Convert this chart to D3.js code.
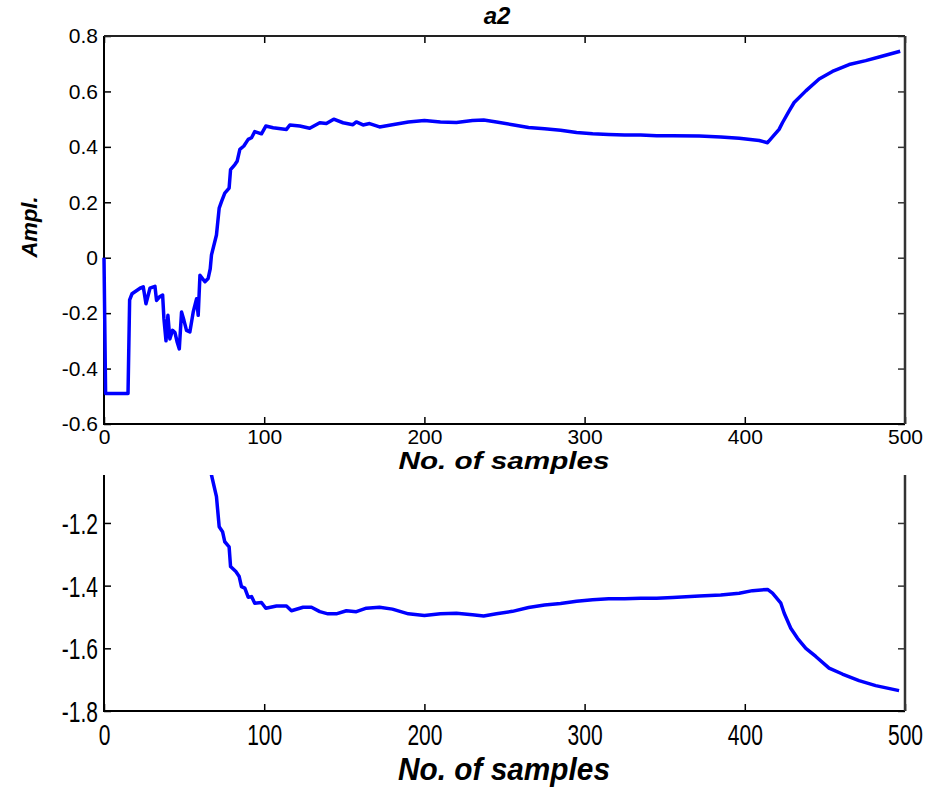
<!DOCTYPE html>
<html>
<head>
<meta charset="utf-8">
<script src="https://cdn.jsdelivr.net/npm/d3@7"></script>
<style>
  body { margin: 0; background: #fff; }
  text { font-family: "Liberation Sans", Arial, sans-serif; }
</style>
</head>
<body>
<div id="chart"></div>
<script>
const width = 935, height = 791;

// tick values
const sampleTicks = [0, 100, 200, 300, 400, 500];
const topTicks = [-0.6, -0.4, -0.2, 0, 0.2, 0.4, 0.6, 0.8];
const bottomTicks = [-1.8, -1.6, -1.4, -1.2];

// upper panel (a2)
const a2Samples = [0, 1, 15, 16, 17.5, 22.5, 24.5, 26.2, 28.7, 31.8, 32.8, 34.9, 36.6, 37.4, 38.7, 39.9,
  41.1, 42.8, 44.3, 45.7, 47, 48.4, 49.9, 51.5, 53.6, 55.7, 57.8, 58.8, 59.9, 63, 65, 66.3, 67.1,
  70.2, 71.9, 73.4, 75.4, 78.1, 79, 81.7, 83.1, 84.8, 87.3, 90, 92.1, 94.1, 98.3, 101, 105.6, 113.9,
  116, 122.2, 128.4, 134.7, 138.8, 143.4, 149.2, 155.4, 157.5, 161.7, 165.8, 172, 180, 190, 200, 210,
  220, 230, 237, 245, 255, 265, 275, 285, 295, 305, 315, 325, 335, 345, 355, 371.6, 385, 396.5, 409,
  414.2, 421.4, 423.5, 427.7, 430.8, 438.1, 446.4, 454.7, 465.1, 475.5, 485, 497];
const a2Values = [0, -0.49, -0.49, -0.152, -0.13, -0.11, -0.105, -0.166, -0.11, -0.103, -0.154, -0.14, -0.135, -0.22, -0.30, -0.208,
  -0.293, -0.262, -0.27, -0.305, -0.329, -0.196, -0.226, -0.262, -0.268, -0.196, -0.148, -0.208, -0.063, -0.087, -0.075, -0.04, 0.01,
  0.082, 0.179, 0.203, 0.233, 0.251, 0.318, 0.336, 0.348, 0.391, 0.403, 0.427, 0.433, 0.455, 0.447, 0.475, 0.469, 0.463,
  0.479, 0.475, 0.467, 0.487, 0.484, 0.5, 0.487, 0.48, 0.49, 0.479, 0.484, 0.472, 0.48, 0.49, 0.495, 0.49,
  0.488, 0.495, 0.497, 0.49, 0.48, 0.47, 0.465, 0.46, 0.452, 0.447, 0.445, 0.443, 0.443, 0.44, 0.44, 0.439, 0.436, 0.431, 0.423,
  0.415, 0.463, 0.487, 0.53, 0.56, 0.602, 0.645, 0.672, 0.697, 0.711, 0.726, 0.745];

// lower panel
const b2Samples = [64, 67.1, 70.2, 71.9, 74, 75.4, 78.1, 79, 82.3, 84.4, 85.8, 87.9, 90, 92.1, 94.1, 98.3,
  101, 107.7, 113.9, 117, 124.3, 129.5, 134.7, 139.8, 145, 151.3, 157.5, 163.8, 172, 180, 190, 200,
  210, 220, 230, 237, 245, 255, 265, 275, 285, 295, 305, 315, 325, 335, 345, 355, 371.6, 385, 396.5,
  404.8, 414.2, 417.3, 422.5, 424.6, 428.7, 432.9, 438.1, 444.3, 452.6, 460.9, 471.3, 481.7, 496.3];
const b2Values = [-1.0, -1.047, -1.116, -1.212, -1.228, -1.26, -1.276, -1.339, -1.355, -1.371, -1.403, -1.408, -1.437, -1.435, -1.456, -1.454,
  -1.472, -1.465, -1.465, -1.48, -1.469, -1.469, -1.483, -1.49, -1.49, -1.48, -1.483, -1.472, -1.469, -1.475, -1.49, -1.495,
  -1.49, -1.488, -1.493, -1.497, -1.49, -1.482, -1.47, -1.462, -1.457, -1.45, -1.445, -1.442, -1.442, -1.44, -1.44, -1.438, -1.433, -1.43, -1.424,
  -1.416, -1.412, -1.424, -1.456, -1.488, -1.536, -1.568, -1.6, -1.626, -1.663, -1.682, -1.703, -1.719, -1.735];

const svg = d3.select("#chart")
  .append("svg")
  .attr("width", width)
  .attr("height", height);

const x = d3.scaleLinear().domain([0, 500]).range([104, 905]);
const yTop = d3.scaleLinear().domain([-0.6, 0.8]).range([424, 36]);
const yBot = d3.scaleLinear().domain([-1.8, -1.047]).range([711, 475]);

const fmt = d => d === 0 ? "0" : d.toFixed(1);
const fmtX = d3.format("d");

function cleanAxis(g, tickColor) {
  g.select(".domain").remove();
  g.selectAll(".tick line").attr("stroke", tickColor).attr("stroke-width", 1.5);
  g.attr("font-size", 21).attr("font-family", null);
  g.selectAll("text").attr("fill", "#000");
}

// ================ upper panel ==================
svg.append("g").attr("transform", "translate(104,0)")
  .call(d3.axisLeft(yTop).tickValues(topTicks).tickSize(-7).tickPadding(6).tickFormat(fmt))
  .call(g => cleanAxis(g, "#000"));
svg.append("g").attr("transform", "translate(905,0)")
  .call(d3.axisRight(yTop).tickValues(topTicks).tickSize(-7).tickFormat(""))
  .call(g => cleanAxis(g, "#333"));
svg.append("g").attr("transform", "translate(0,424)")
  .call(d3.axisBottom(x).tickValues(sampleTicks).tickSize(-7).tickPadding(5).tickFormat(fmtX))
  .call(g => cleanAxis(g, "#000"));
svg.append("g").attr("transform", "translate(0,36)")
  .call(d3.axisTop(x).tickValues(sampleTicks).tickSize(-7).tickFormat(""))
  .call(g => cleanAxis(g, "#000"));

// frame
svg.append("path").attr("d", "M104,36V424H905").attr("fill", "none").attr("stroke", "#000").attr("stroke-width", 2);
svg.append("path").attr("d", "M104,36H905").attr("fill", "none").attr("stroke", "#222").attr("stroke-width", 2);
svg.append("path").attr("d", "M905,36V424").attr("fill", "none").attr("stroke", "#333").attr("stroke-width", 2.5);

const topLine = d3.line()
  .x((d, i) => x(a2Samples[i]))
  .y(d => yTop(d));

svg.append("path")
  .datum(a2Values)
  .attr("d", topLine)
  .attr("fill", "none")
  .attr("stroke", "#0000ff")
  .attr("stroke-width", 3.5)
  .attr("stroke-linejoin", "round");

svg.append("text")
  .attr("x", 497).attr("y", 24)
  .attr("text-anchor", "middle")
  .attr("font-size", 24).attr("font-weight", "bold").attr("font-style", "italic")
  .text("a2");

svg.append("text")
  .attr("transform", "translate(37,227) rotate(-90)")
  .attr("text-anchor", "middle")
  .attr("font-size", 22).attr("font-weight", "bold").attr("font-style", "italic")
  .text("Ampl.");

svg.append("text")
  .attr("x", 504).attr("y", 469)
  .attr("text-anchor", "middle")
  .attr("font-size", 24).attr("font-weight", "bold").attr("font-style", "italic")
  .attr("textLength", 211).attr("lengthAdjust", "spacingAndGlyphs")
  .text("No. of samples");

// ================ lower panel ==================
const stretch = 1.4;

svg.append("g").attr("transform", "translate(104,0)")
  .call(d3.axisLeft(yBot).tickValues(bottomTicks).tickSize(-7).tickPadding(6).tickFormat(fmt))
  .call(g => cleanAxis(g, "#000"))
  .call(g => g.selectAll("text").attr("dy", null).attr("transform", `translate(0,${0.36 * 21 * stretch}) scale(1,${stretch})`));
svg.append("g").attr("transform", "translate(905,0)")
  .call(d3.axisRight(yBot).tickValues(bottomTicks).tickSize(-7).tickFormat(""))
  .call(g => cleanAxis(g, "#333"));
svg.append("g").attr("transform", "translate(0,711)")
  .call(d3.axisBottom(x).tickValues(sampleTicks).tickSize(-7).tickFormat(fmtX))
  .call(g => cleanAxis(g, "#000"))
  .call(g => g.selectAll("text").attr("y", null).attr("dy", null).attr("transform", `translate(0,34) scale(1,${stretch})`));

svg.append("path").attr("d", "M104,475V711H905").attr("fill", "none").attr("stroke", "#000").attr("stroke-width", 2);
svg.append("path").attr("d", "M905,475V711").attr("fill", "none").attr("stroke", "#333").attr("stroke-width", 2.5);

svg.append("clipPath").attr("id", "clipBot")
  .append("rect").attr("x", 104).attr("y", 475).attr("width", 801).attr("height", 236);

const botLine = d3.line()
  .x((d, i) => x(b2Samples[i]))
  .y(d => yBot(d));

svg.append("path")
  .datum(b2Values)
  .attr("clip-path", "url(#clipBot)")
  .attr("d", botLine)
  .attr("fill", "none")
  .attr("stroke", "#0000ff")
  .attr("stroke-width", 3.5)
  .attr("stroke-linejoin", "round");

svg.append("text")
  .attr("transform", `translate(504,780) scale(1,${stretch})`)
  .attr("text-anchor", "middle")
  .attr("font-size", 23).attr("font-weight", "bold").attr("font-style", "italic")
  .attr("textLength", 212).attr("lengthAdjust", "spacingAndGlyphs")
  .text("No. of samples");
</script>
</body>
</html>
